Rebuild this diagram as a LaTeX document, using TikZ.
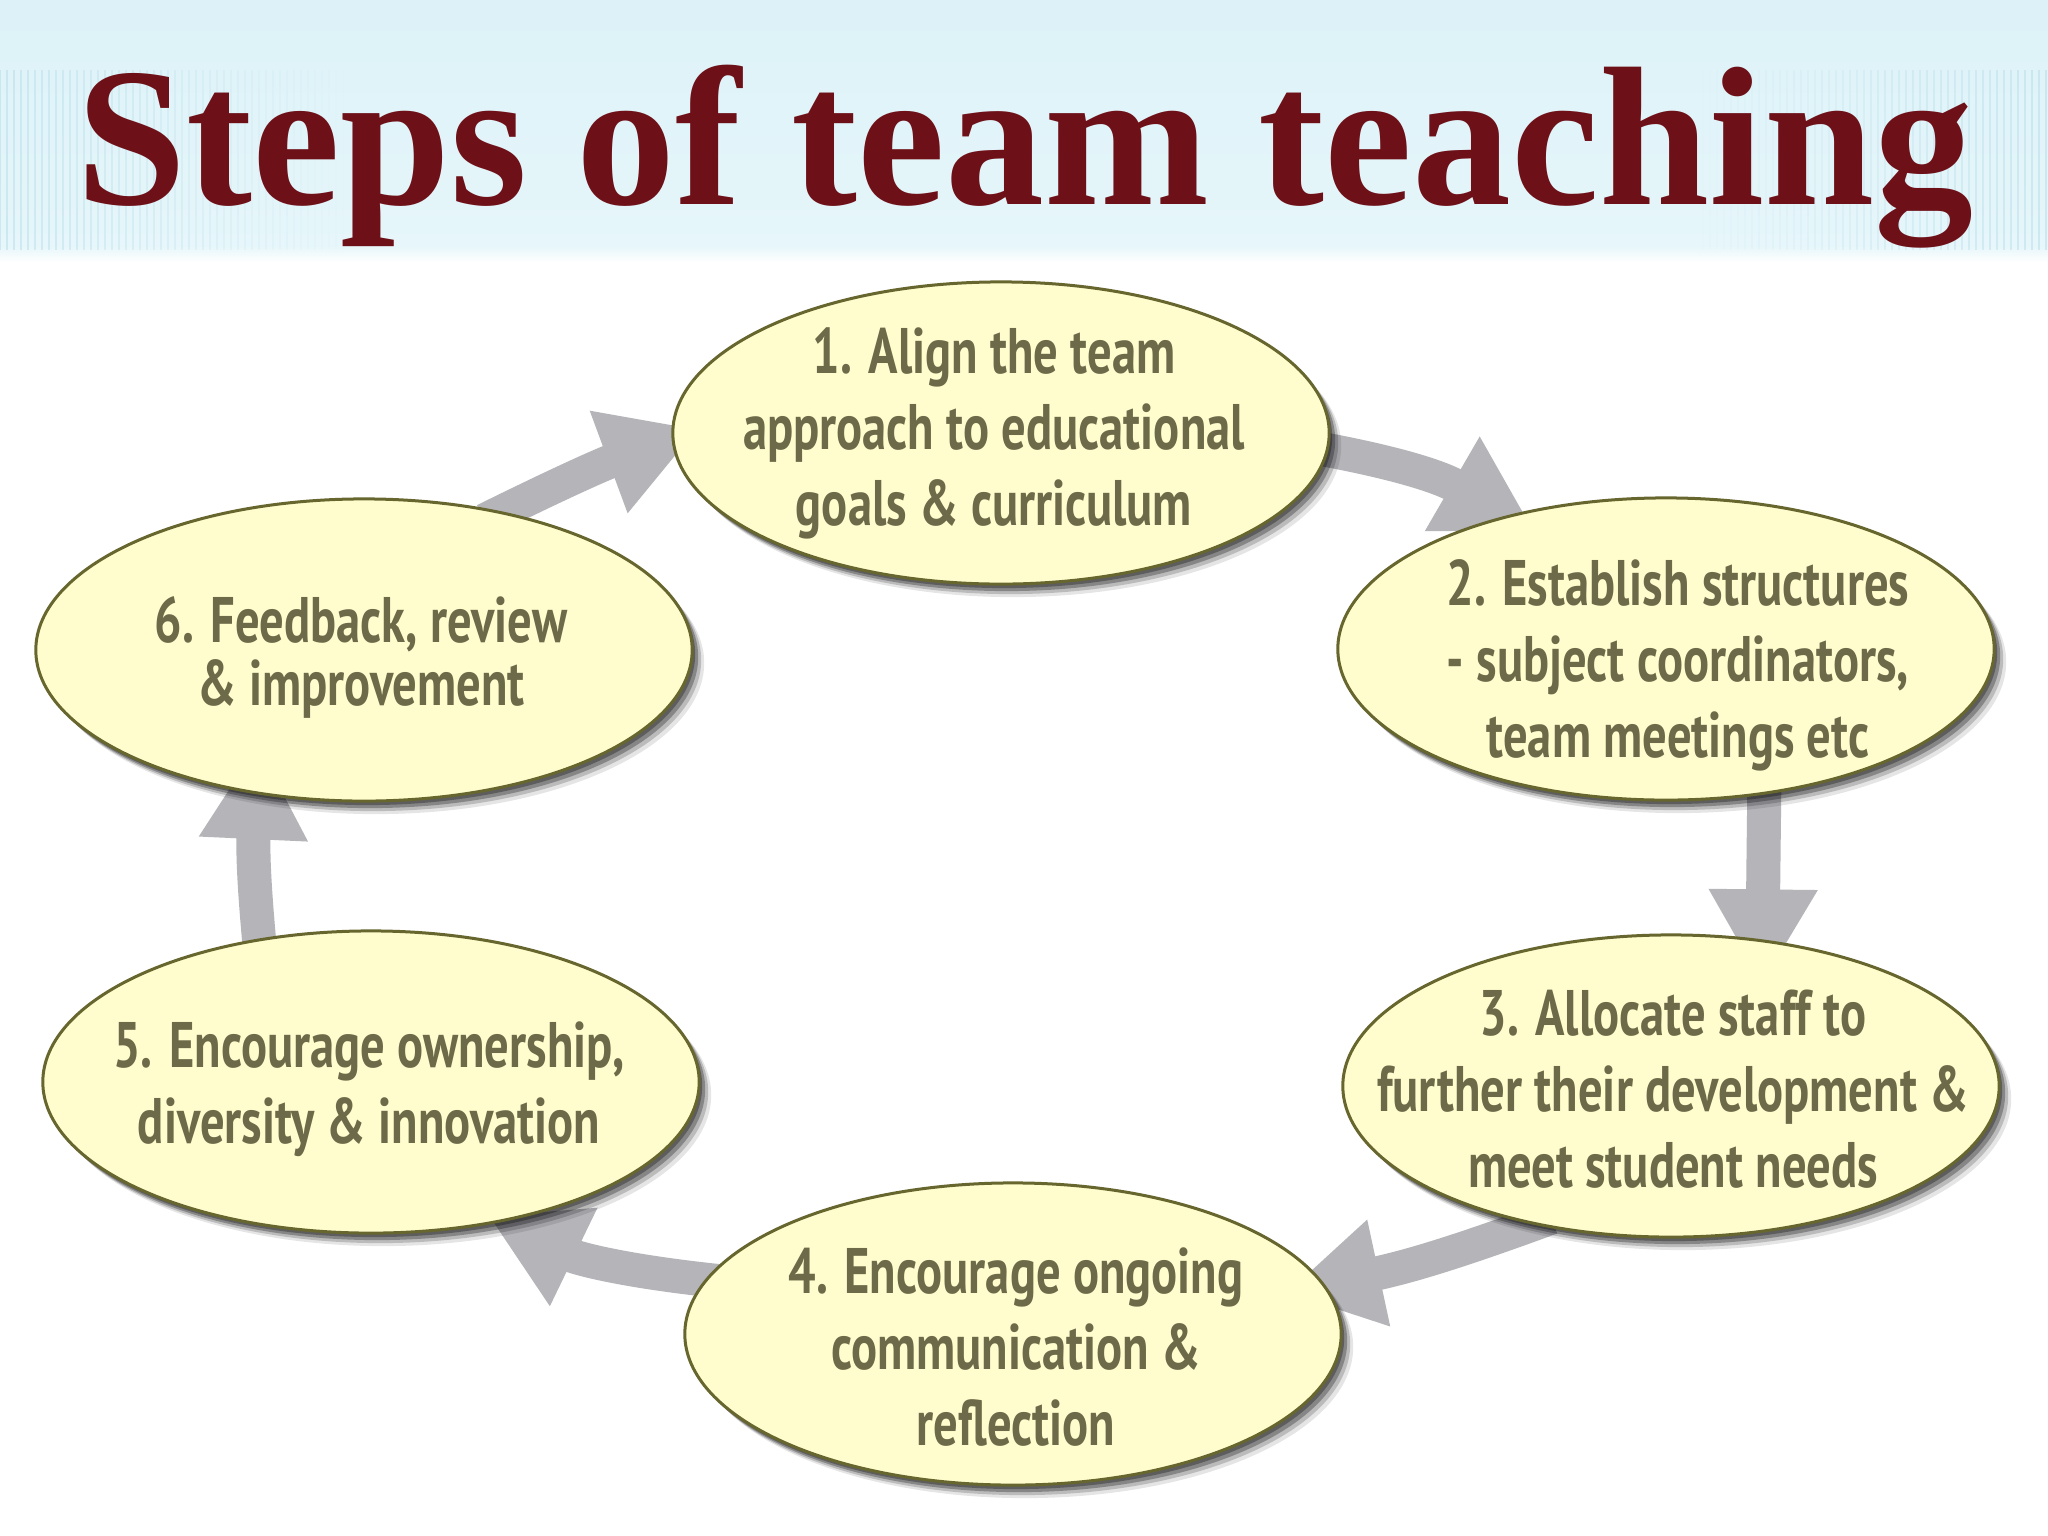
\documentclass[tikz,border=0pt]{standalone}
\usepackage{fontspec}
\setmainfont{Liberation Serif}
\newfontfamily\stepfont[FakeStretch=0.755]{PT Sans}
\usetikzlibrary{arrows.meta,shapes.geometric}
\definecolor{titlered}{HTML}{6E1018}
\definecolor{bandtop}{HTML}{DCF2F8}
\definecolor{bandbot}{HTML}{E6F6FA}
\definecolor{stripecol}{HTML}{B9DEE9}
\definecolor{stepfill}{HTML}{FFFDCE}
\definecolor{stepborder}{HTML}{66662E}
\definecolor{steptext}{HTML}{6C6A48}
\definecolor{arrowgray}{HTML}{B5B4B9}
\pgfdeclarelayer{bglayer}
\pgfdeclarelayer{arrlayer}
\pgfsetlayers{bglayer,arrlayer,main}
\tikzset{
  stepnode/.style={ellipse, draw=stepborder, line width=0.03cm, fill=stepfill,
    minimum width=6.56cm, minimum height=3.02cm, inner sep=0pt,
    preaction={fill=black, opacity=0.10, transform canvas={xshift=0.12cm, yshift=-0.13cm}},
    preaction={fill=black, opacity=0.18, transform canvas={xshift=0.09cm, yshift=-0.10cm}},
    preaction={fill=black, opacity=0.28, transform canvas={xshift=0.06cm, yshift=-0.07cm}},
    preaction={fill=black, opacity=0.30, transform canvas={xshift=0.03cm, yshift=-0.04cm}}},
  steplabel/.style={inner sep=0pt, align=center, text=steptext,
    font=\stepfont\bfseries\fontsize{18.3pt}{21.6pt}\selectfont},
  cyclearrow/.style={draw=arrowgray, line width=0.34cm, -{Triangle[width=1.02cm,length=0.95cm]}},
  titletext/.style={text=titlered, inner sep=0pt, font=\fontsize{56.3pt}{60pt}\selectfont\bfseries}
}
\begin{document}
\begin{tikzpicture}[x=0.01cm,y=-0.01cm]
\useasboundingbox (0,0) rectangle (2048,1536);
\begin{pgfonlayer}{bglayer}
  \fill[white] (0,0) rectangle (2048,1536);
  \shade[top color=bandtop, bottom color=bandbot] (0,0) rectangle (2048,246);
  \shade[top color=bandbot, bottom color=white] (0,246) rectangle (2048,262);
  \foreach \i [evaluate=\i as \op using {0.55*(1-\i/50)}] in {0,...,50} {
    \draw[stripecol, line width=0.02cm, opacity=\op] ({\i*7},70) -- ({\i*7},250);
    \draw[stripecol, line width=0.02cm, opacity=\op] ({2046-\i*7},70) -- ({2046-\i*7},250);
  }
\end{pgfonlayer}

\node[titletext, anchor=base] (title) at (1025,204) {Steps of team teaching};

\node[stepnode] (e1) at (1001,433) {};
\node[stepnode] (e2) at (1666,649) {};
\node[stepnode] (e3) at (1671,1086) {};
\node[stepnode] (e4) at (1013,1334) {};
\node[stepnode] (e5) at (371,1082) {};
\node[stepnode] (e6) at (364,650) {};

\node[steplabel] (t1) at (994,433) {1. Align the team\\approach to educational\\goals \& curriculum};
\node[steplabel] (t2) at (1678,665) {2. Establish structures\\- subject coordinators,\\team meetings etc};
\node[steplabel] (t3) at (1673,1089) {3. Allocate staff to\\further their development \&\\meet student needs};
\node[steplabel] (t4) at (1016,1347) {4. Encourage ongoing\\communication \&\\reflection};
\node[steplabel] (t5) at (369,1089) {5. Encourage ownership,\\diversity \& innovation};
\node[steplabel, font=\stepfont\bfseries\fontsize{18.3pt}{17.9pt}\selectfont] (t6) at (361,657) {6. Feedback, review\\\& improvement};

\begin{pgfonlayer}{arrlayer}
  \draw[cyclearrow, shorten <=-0.2cm, shorten >=-0.32cm] (e1.-3) to[bend left=10] (e2.140);
  \draw[cyclearrow, shorten <=-0.15cm, shorten >=-0.45cm] (e2.-56.6) -- (e3.58.3);
  \draw[cyclearrow, shorten <=-0.2cm, shorten >=-0.40cm] (e3.-135) to[bend left=4] (e4.9);
  \draw[cyclearrow, shorten <=-0.2cm, shorten >=-0.15cm] (e4.170) to[bend left=10] (e5.-47);
  \draw[cyclearrow, shorten <=-0.15cm, shorten >=-0.50cm] (e5.128) to[bend left=4] (e6.233.8);
  \draw[cyclearrow, shorten <=-0.2cm, shorten >=-0.28cm] (e6.45) to[bend left=3] (e1.181);
\end{pgfonlayer}
\end{tikzpicture}
\end{document}
